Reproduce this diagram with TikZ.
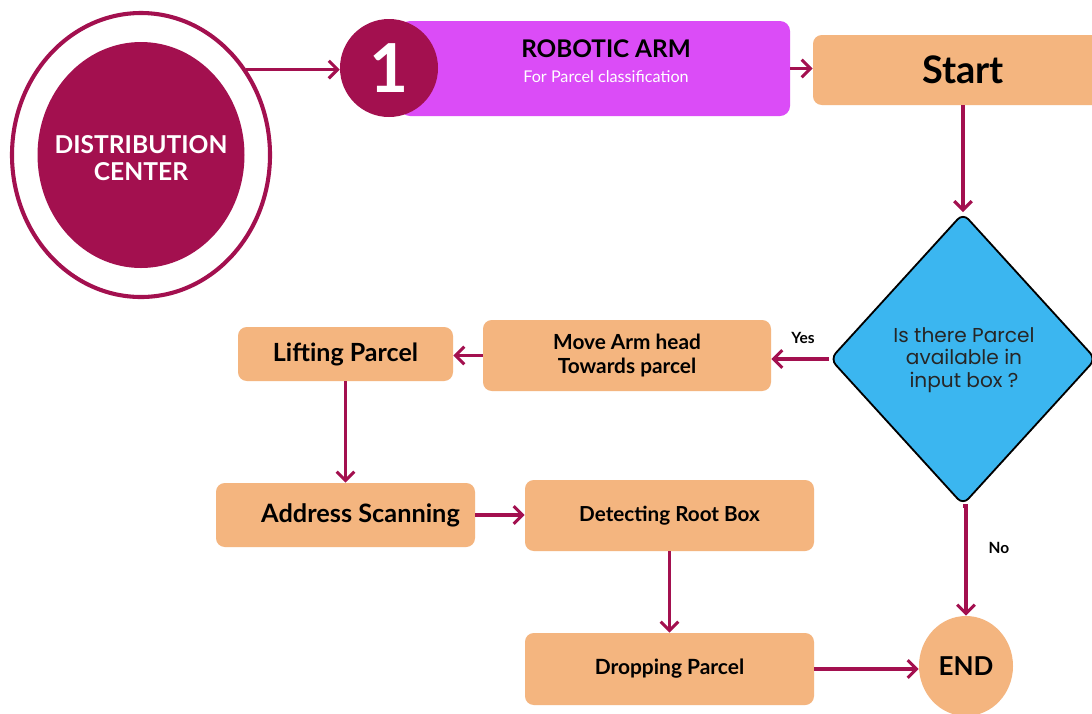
\documentclass[tikz,border=0pt]{standalone}
\usepackage{fontspec}
\setmainfont{Lato}
\newfontfamily\popfont{Poppins}
\usetikzlibrary{arrows.meta,shapes.geometric}
\definecolor{mag}{HTML}{A3104F}
\definecolor{violet}{HTML}{DB4CF7}
\definecolor{peach}{HTML}{F4B57F}
\definecolor{skyb}{HTML}{3BB6F0}
\tikzset{
  x=0.025cm, y=-0.025cm,
  arr/.style={draw=mag, line width=2.4pt, -{Straight Barb[length=2.2mm,width=4.4mm,line width=2.2pt]}},
  pbox/.style={fill=peach, rounded corners=0.22cm, inner sep=0pt, font=\bfseries, text=black, align=center},
}
\begin{document}
\begin{tikzpicture}
\clip (0,0) rectangle (1092,713);
\fill[white] (0,0) rectangle (1092,713);
% distribution center
\node[ellipse, draw=mag, line width=2.9pt, minimum width=258*0.025cm, minimum height=284*0.025cm, inner sep=0pt] (dcouter) at (141,155) {};
\node[ellipse, fill=mag, minimum width=207*0.025cm, minimum height=226*0.025cm, inner sep=0pt] (dcinner) at (141,155) {};
\node[text=white, font=\bfseries\fontsize{17.5}{19}\selectfont, align=center, inner sep=0pt] (dc) at (141,158) {DISTRIBUTION\\CENTER};
% robotic arm
\node[fill=violet, rounded corners=0.25cm, minimum width=390*0.025cm, minimum height=95*0.025cm, inner sep=0pt] (purple) at (595,68.5) {};
\node[font=\bfseries\fontsize{17.3}{18}\selectfont, text=black, inner sep=0pt] (rtitle) at (606,49) {ROBOTIC ARM};
\node[font=\fontsize{11.5}{13}\selectfont, text=white, inner sep=0pt] (rsub) at (606,77) {For Parcel classification};
\node[circle, fill=mag, minimum size=98*0.025cm, inner sep=0pt, text=white, font=\bfseries\fontsize{48}{50}\selectfont] (one) at (389,68) {1};
% start
\node[pbox, minimum width=300*0.025cm, minimum height=70*0.025cm, font=\bfseries\fontsize{27}{30}\selectfont] (start) at (963,70) {Start};
% diamond
\node[diamond, fill=skyb, draw=black, line width=1.3pt, rounded corners=0.2cm, minimum width=266*0.025cm, minimum height=292*0.025cm, inner sep=0pt, aspect=0.91, text=black!85] (dia) at (963,359) {};
\node[font=\popfont\fontsize{14.3}{16.2}\selectfont, text=black!85, align=center, inner sep=0pt] (diatext) at (964,360) {Is there Parcel\\available in\\input box ?};
% boxes
\node[pbox, minimum width=288*0.025cm, minimum height=71*0.025cm, font=\bfseries\fontsize{14.8}{17}\selectfont] (move) at (627,355.5) {Move Arm head\\Towards parcel};
\node[pbox, minimum width=215*0.025cm, minimum height=54*0.025cm, font=\bfseries\fontsize{17.8}{20}\selectfont] (lift) at (345.5,354) {Lifting Parcel};
\node[pbox, minimum width=259*0.025cm, minimum height=64*0.025cm, font=\bfseries\fontsize{18}{20}\selectfont] (addr) at (345.5,515) {\hspace*{0.75cm}Address Scanning};
\node[pbox, minimum width=289*0.025cm, minimum height=71*0.025cm, font=\bfseries\fontsize{14.7}{17}\selectfont] (detect) at (669.5,515.5) {\raisebox{0.1cm}{Detecting Root Box}};
\node[pbox, minimum width=289*0.025cm, minimum height=72*0.025cm, font=\bfseries\fontsize{14.9}{17}\selectfont] (drop) at (669.5,669) {Dropping Parcel};
\node[ellipse, fill=peach, minimum width=94*0.025cm, minimum height=100*0.025cm, inner sep=0pt, font=\bfseries\fontsize{18.5}{20}\selectfont] (endn) at (966,666) {END};
% labels
\node[font=\bfseries\fontsize{11}{12}\selectfont, inner sep=0pt] (yes) at (803,338) {Yes};
\node[font=\bfseries\fontsize{11}{12}\selectfont, inner sep=0pt] (no) at (999,548) {No};
% connectors
\draw[arr] (dcouter.39) -- (dcouter.39 -| one.west);
\draw[arr] (purple.east) -- (purple.east -| start.west);
\draw[arr] (start.south) -- (dia.north);
\draw[arr] (dia.west) -- (dia.west -| move.east);
\draw[arr] (move.west) -- (move.west -| lift.east);
\draw[arr] (lift.south) -- (addr.north);
\draw[arr] (addr.east) -- (addr.east -| detect.west);
\draw[arr] (detect.south) -- (drop.north);
\draw[arr] (drop.east) -- (drop.east -| endn.west);
\draw[arr] (dia.south) -- (dia.south -| endn.north) -- (endn.north);
\end{tikzpicture}
\end{document}
